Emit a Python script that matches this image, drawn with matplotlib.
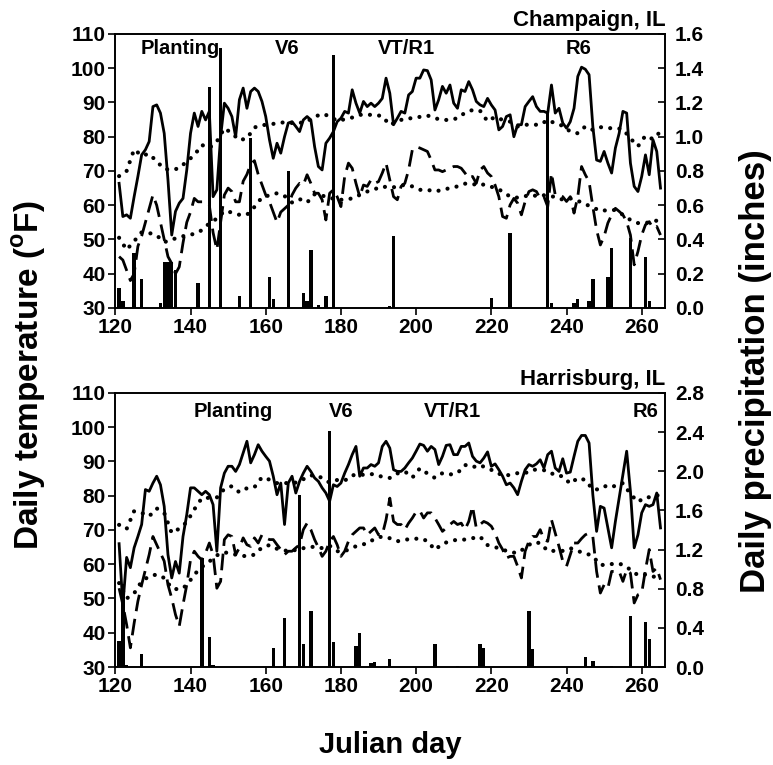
import matplotlib
matplotlib.use("Agg")
import matplotlib.pyplot as plt
import numpy as np
from matplotlib.ticker import FormatStrFormatter

plt.rcParams['font.family'] = ['Liberation Sans', 'DejaVu Sans']
plt.rcParams['font.weight'] = 'bold'
plt.rcParams['mathtext.fontset'] = 'custom'
plt.rcParams['mathtext.rm'] = 'Liberation Sans:bold'
plt.rcParams['mathtext.bf'] = 'Liberation Sans:bold'

# daily observations, Julian day 121-265
days = np.arange(121, 266)
# normals read every second day
norm_days = np.arange(121, 266, 2)

# ---- Champaign, IL ----
champ_max = [66.4, 56.7, 57.2, 56.2, 62.5, 68.4, 74.7, 76.2, 78.6, 88.8,
             89.3, 86.9, 81, 67.4, 51.3, 58.2, 60.6, 62, 70.3, 81,
             86.9, 83, 87.4, 84.9, 87.4, 62.5, 64.5, 80, 89.8, 88.3,
             85.9, 80, 90.8, 94.2, 88.3, 93.2, 94.2, 93.2, 90.3, 85.9,
             79.1, 73.7, 78.1, 75.2, 80, 84, 84.4, 83, 81.5, 84.9,
             85.9, 84.9, 77.1, 71.3, 70.3, 78.1, 79.6, 81.5, 84.4, 85.4,
             87.4, 86.9, 93.7, 89.8, 86.9, 90.3, 88.8, 89.8, 88.8, 89.8,
             91.2, 97.1, 92.7, 83.5, 85.4, 87.4, 86.9, 92.2, 93.2, 97.1,
             97.1, 99.5, 99.3, 96.6, 87.8, 90.8, 94.7, 92.7, 95.1, 89.8,
             88.3, 93.7, 93.2, 96.1, 93.7, 90.3, 89.3, 88.8, 91.2, 89.3,
             87.8, 82, 83, 85.9, 86.4, 80, 83.5, 83.5, 88.8, 90.3,
             91.7, 88.8, 87.4, 87.4, 86.9, 95.1, 86.9, 88.3, 84, 82.5,
             84.4, 88.3, 97.6, 100.3, 99.7, 98.1, 83, 73.2, 72.8, 75.7,
             72.3, 69.4, 76.7, 81, 87.4, 86.9, 72.3, 65.5, 64, 68.4,
             74.7, 68.9, 79.1, 75.7, 65]
champ_min = [45, 44, 41, 38, 40, 48, 51, 55, 59, 63,
             60, 55, 50, 45, 43, 40, 42, 49, 55, 58,
             62, 61, 61, 61, 60, 52, 47, 55, 63, 65,
             64, 61, 61, 67, 69, 72, 73, 69, 66, 63,
             61, 58, 55, 58, 59, 60, 63, 65, 66.4, 65.9,
             68.9, 66.4, 63.5, 63.5, 61.6, 55.7, 63.5, 64.5, 62.5, 59.6,
             68.4, 72.3, 70.8, 66.4, 62.5, 65.9, 65.5, 67.4, 66.4, 66.9,
             69.4, 72.3, 67.4, 62.5, 61.6, 65.5, 66.4, 70.3, 76.2, 77.1,
             76.7, 76.2, 75.7, 73.2, 70.3, 70.3, 69.8, 70.3, 70.8, 71.3,
             71.3, 70.8, 69.4, 67.9, 68.4, 66.4, 70.3, 71.3, 69.4, 68.4,
             65.9, 62.5, 56.7, 56.2, 60.1, 62, 60.6, 57.2, 61.1, 64,
             64.5, 64, 62, 62.5, 59.6, 69.4, 63, 63, 62.5, 61.1,
             62.5, 57.7, 62.5, 71.3, 68.9, 66.9, 59.6, 52.8, 48.4, 50.9,
             54.8, 57.2, 59.1, 58.2, 57.2, 55.2, 51.3, 42.6, 46.5, 51.3,
             54.3, 55.2, 53.3, 53.8, 51.3]
champ_norm_max = [68.5, 70, 76.3, 74.5, 75, 72.8, 70.6, 70.3, 70.8, 72.8,
                  74.6, 77.6, 76.7, 78.6, 82.5, 81, 79, 79.5, 82.7, 83.4,
                  83.5, 84, 84.2, 84, 84, 84.5, 85.8, 86.7, 86, 84.6,
                  85.1, 85.6, 86.4, 86.4, 86.4, 86, 83.4, 84.5, 85.3, 85.4,
                  85.8, 86.2, 85.4, 84.9, 84.9, 85.4, 87, 87.8, 87.6, 84.5,
                  85.8, 84.9, 84.4, 83, 83.5, 83.5, 83.5, 84.9, 83.9, 83.2,
                  81.5, 81, 83, 82, 82.8, 82.5, 82.5, 82.2, 79.5, 77.2,
                  80.3, 79.3, 81.5]
champ_norm_min = [50.5, 47, 49.5, 52.1, 51.9, 51.2, 49.2, 50, 50.6, 51.3,
                  51.6, 52.7, 54.7, 56.1, 58.3, 57.9, 57.2, 57.2, 59.5, 62.3,
                  62.9, 63.5, 62.7, 60.8, 61.8, 60.8, 63.2, 62.8, 62.2, 61.6,
                  61.6, 62, 63, 64, 64.7, 65.5, 65.1, 65.4, 66, 65.5,
                  64.5, 64.5, 64, 64.5, 65, 65.5, 66.3, 66, 66.4, 65.5,
                  65.2, 64, 62.5, 62.2, 62.7, 62.6, 63.2, 62.6, 62.5, 61.6,
                  62, 61.3, 60.3, 59.4, 58.3, 58.6, 58.6, 57.2, 55.7, 54.8,
                  54.8, 55.3, 55.7]
champ_rain_days = [121, 122, 125, 127, 132, 133, 134, 135, 136, 142, 145, 148,
                   153, 156, 161, 162, 166, 170, 171, 172, 174, 176, 178, 193,
                   194, 220, 225, 235, 236, 242, 243, 246, 247, 251, 252, 257,
                   261, 262]
champ_rain = [0.115, 0.04, 0.32, 0.17, 0.03, 0.27, 0.27, 0.27, 0.22, 0.145, 1.29, 1.52,
              0.07, 0.99, 0.18, 0.05, 0.80, 0.085, 0.04, 0.34, 0.02, 0.07, 1.48, 0.01,
              0.42, 0.056, 0.44, 1.14, 0.03, 0.03, 0.05, 0.04, 0.17, 0.18, 0.35, 0.41,
              0.30, 0.04]

# ---- Harrisburg, IL ----
harr_max = [66, 48, 62, 59, 64.8, 68.1, 71.6, 81.8, 81.3, 83.7,
            85.7, 83.2, 76.9, 62.8, 56, 60.8, 57.4, 68.1, 74.5, 82.3,
            82.3, 81.3, 80.3, 81.3, 80.3, 77.4, 63.8, 82.3, 86.6, 88.6,
            88.6, 87.1, 89.1, 92.5, 95.9, 89.6, 92, 94.9, 93, 91.5,
            90.1, 85.7, 80.3, 83.7, 71.6, 83.7, 85.7, 80.8, 84.2, 86.6,
            88.6, 87.1, 85.2, 84.2, 82.3, 80.8, 78.4, 83.2, 82.7, 83.7,
            86.6, 89.1, 92, 94.4, 85.7, 88.1, 88.1, 89.1, 88.6, 89.6,
            94.4, 95.9, 93.9, 87.6, 87.1, 87.1, 88.1, 89.6, 91, 93,
            95.1, 94.7, 93, 94.4, 93.5, 89.1, 91.5, 94.7, 94.9, 92,
            92, 94.4, 94.4, 95.4, 91.5, 90.1, 89.6, 91, 92.8, 88.6,
            89.3, 87.6, 85.7, 83.2, 83.7, 82.3, 80.3, 84.2, 87.6, 89.1,
            88.6, 89.3, 90.5, 88.1, 92, 93, 88.1, 87.1, 90.8, 86.6,
            86.9, 91.5, 95.9, 97.6, 97.6, 95.4, 80.3, 69.6, 76.9, 76.4,
            70.6, 64.8, 72.5, 79.3, 86.1, 93, 81.3, 64.8, 68.6, 75,
            77.4, 76.9, 77.4, 80.8, 70.6]
harr_min = [53, 48.2, 42.4, 35.6, 42.8, 49.2, 54, 58.4, 62.8, 68.1,
            65.7, 63.3, 60.9, 54, 50.1, 45.3, 41.9, 48.2, 54, 61.3,
            63.8, 62.3, 61.3, 63.3, 66.2, 62.8, 53, 55, 67.2, 68.6,
            68.1, 62.8, 64.8, 67.7, 65.7, 65.2, 67.7, 66.2, 68.6, 67.7,
            67.2, 67.2, 65.7, 64.3, 62.8, 63.8, 63.8, 64.8, 65.7, 70.1,
            72, 70.1, 67.2, 64.9, 62.3, 63.8, 66.7, 68.1, 65.7, 62.3,
            63.8, 66.7, 68.6, 69.6, 70.6, 70.6, 68.6, 69.6, 70.6, 68.6,
            68.6, 73, 79.3, 72.5, 71.6, 71.6, 70.1, 72, 73.5, 75.3,
            75.6, 73.5, 75, 75, 73.5, 71.6, 69.6, 70.6, 71.6, 72.5,
            71.6, 72, 70.1, 72.5, 76.9, 70.6, 71.6, 72.5, 72, 71.1,
            69.1, 66.2, 64.3, 61.8, 62.3, 62.3, 59.4, 56, 63.8, 66.7,
            68.1, 68.1, 70.1, 67.2, 66.7, 73, 69.1, 65.2, 60.9, 59.4,
            62.8, 66.2, 66.2, 67.5, 68.6, 69.1, 68.1, 57.9, 51.6, 54,
            53, 57.9, 57.9, 57.9, 55, 58.4, 57.4, 48.7, 51.1, 51.6,
            58.4, 64.3, 57.9, 58.9, 55.5]
harr_norm_max = [71.5, 70.3, 75.5, 75, 74, 76.3, 75, 69.1, 70.4, 72.3,
                 76, 79.3, 79.4, 79.5, 82, 82.8, 81, 82.2, 82.5, 85.4,
                 84.7, 83.7, 83.7, 83.7, 84, 85.6, 86.1, 85.2, 83.8, 84.6,
                 84.4, 86, 86, 86.3, 86.3, 85.5, 85.2, 86.5, 87.1, 85.3,
                 88, 86.5, 85.2, 86.6, 86.2, 86.6, 89, 88.3, 89, 87.9,
                 87.2, 85.8, 86.1, 86.6, 86.6, 87.6, 87.6, 87.3, 85.9, 85.7,
                 83.5, 85.2, 84.6, 81.8, 81.9, 83.2, 82.7, 83.7, 80.5, 78.2,
                 79.6, 79.5, 80.5]
harr_norm_min = [54.5, 50, 51.5, 55, 56.5, 57, 56, 53, 52.6, 53.8,
                 57, 59.2, 60.8, 62.6, 63.5, 63, 62.6, 62.3, 62.8, 64.9,
                 65.6, 64.5, 64, 63.8, 64.7, 64.7, 65.2, 64.7, 65.4, 63.8,
                 63.8, 64.8, 65.7, 66, 67.5, 68.1, 67.6, 66.7, 67.2, 67.3,
                 67.6, 66.8, 64.2, 66, 66.7, 67.2, 67.2, 67.6, 68.1, 65.6,
                 65, 64.3, 63.5, 63.3, 64.8, 66.4, 66.2, 63.9, 63.9, 63.9,
                 64.7, 63.8, 63.3, 62.3, 59.8, 59.8, 60.3, 59.9, 58.4, 56.8,
                 57, 56.3, 57]
harr_rain_days = [121, 122, 123, 127, 143, 145, 146, 162, 165, 169, 170, 172,
                  177, 178, 184, 185, 188, 189, 193, 205, 211, 217, 218, 230,
                  231, 245, 247, 252, 257, 261, 262]
harr_rain = [0.27, 0.85, 0.02, 0.13, 1.11, 0.31, 0.02, 0.19, 0.5, 1.76, 0.23, 0.57,
             2.41, 0.26, 0.21, 0.35, 0.04, 0.05, 0.085, 0.23, 0.01, 0.235, 0.19, 0.57,
             0.18, 0.1, 0.065, 0.01, 0.52, 0.46, 0.29]

stage_names = ['Planting', 'V6', 'VT/R1', 'R6']
champ_stage_days = [137.3, 165.6, 197.3, 243.1]
harr_stage_days = [151.3, 180, 209.7, 261.1]

fig = plt.figure(figsize=(7.73, 7.65), dpi=100)


def panel(rect, tmax, tmin, nmax, nmin, rdays, rain, ptop, pstep, title, sdays, sy):
    ax = fig.add_axes(rect)
    ax2 = ax.twinx()
    ax2.bar(rdays, rain, width=0.9, color='black', linewidth=0)
    ax2.set_ylim(0, ptop)
    ax2.set_yticks(np.arange(0, ptop + 0.001, pstep))
    ax2.yaxis.set_major_formatter(FormatStrFormatter('%.1f'))
    ax2.tick_params(direction='in', length=5, width=1.2, labelsize=15, pad=7)

    # lines drawn above the rain bars
    ax.set_zorder(ax2.get_zorder() + 1)
    ax.patch.set_visible(False)
    dots = (0, (0.01, 2.2))
    ax.plot(norm_days, nmax, color='black', lw=3.0, ls=dots, dash_capstyle='round')
    ax.plot(norm_days, nmin, color='black', lw=3.0, ls=dots, dash_capstyle='round')
    ax.plot(days, tmin, color='black', lw=2.0, ls=(0, (6, 2.8)))
    ax.plot(days, tmax, color='black', lw=2.0)

    ax.set_xlim(120, 266.3)
    ax.set_ylim(30, 110)
    ax.set_xticks(range(120, 261, 20))
    ax.set_yticks(range(30, 111, 10))
    ax.tick_params(direction='out', length=5, width=1.2, labelsize=15, pad=2)
    for a in (ax, ax2):
        for s in a.spines.values():
            s.set_linewidth(1.2)

    ax.text(1.0, 1.012, title, transform=ax.transAxes, ha='right', va='bottom',
            fontsize=16, fontweight='bold')
    for name, d in zip(stage_names, sdays):
        ax.text(d, sy, name, ha='center', va='center', fontsize=14.5, fontweight='bold')
    return ax


panel([0.1492, 0.5974, 0.7116, 0.3582], champ_max, champ_min, champ_norm_max,
      champ_norm_min, champ_rain_days, champ_rain, 1.6, 0.2, 'Champaign, IL',
      champ_stage_days, 105.9)
panel([0.1492, 0.1281, 0.7116, 0.3582], harr_max, harr_min, harr_norm_max,
      harr_norm_min, harr_rain_days, harr_rain, 2.8, 0.4, 'Harrisburg, IL',
      harr_stage_days, 104.7)

fig.text(0.038, 0.51, r'Daily temperature ($^{\mathbf{o}}$F)', rotation=90,
         ha='center', va='center', fontsize=24, fontweight='bold')
fig.text(0.977, 0.515, 'Daily precipitation (inches)', rotation=90,
         ha='center', va='center', fontsize=25, fontweight='bold')
fig.text(0.505, 0.026, 'Julian day', ha='center', va='center',
         fontsize=21, fontweight='bold')

fig.savefig('out.png', dpi=100)
